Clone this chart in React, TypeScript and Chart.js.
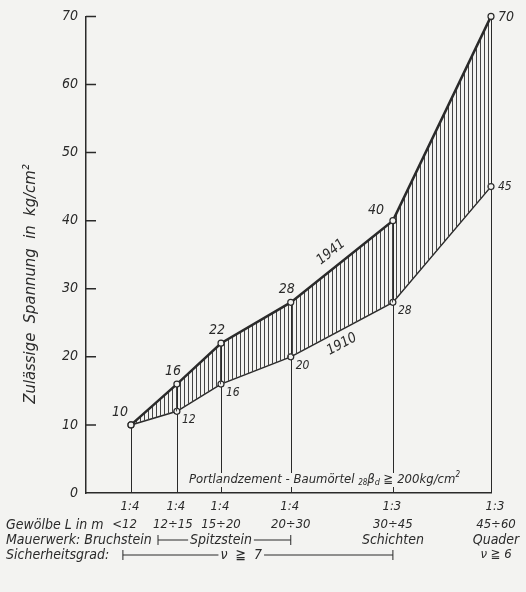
import React, { useEffect, useRef } from "react";
import { Chart, registerables } from "chart.js";

Chart.register(...registerables);

// ---- data ----
const columnPos = [1, 2.02, 3, 4.55, 6.82, 9];
const zul1941 = [10, 16, 22, 28, 40, 70];
const zul1910 = [10, 12, 16, 20, 28, 45];
const mischung = ["1:4", "1:4", "1:4", "1:4", "1:3", "1:3"];
const spannweite = ["<12", "12÷15", "15÷20", "20÷30", "30÷45", "45÷60"];
const mauerwerk = ["", "", "", "", "Schichten", "Quader"];
const sicherheit = ["", "", "", "", "", "ν ≧ 6"];
const spitzsteinRange = [1.6, 4.55];
const spitzsteinAt = 3;
const sicherheit7Range = [0.82, 6.82];
const sicherheit7At = 3.45;

const PAPER = "#f3f3f1";
const INK = "#2a2a2a";
const FONT = "'DejaVu Sans Condensed', 'Liberation Sans Narrow', 'Roboto Condensed', 'DejaVu Sans', sans-serif";

function makeHatch(): CanvasPattern | string {
  const c = document.createElement("canvas");
  c.width = 4;
  c.height = 4;
  const g = c.getContext("2d");
  if (!g) return "#999";
  g.strokeStyle = "#444444";
  g.lineWidth = 1;
  g.beginPath();
  g.moveTo(0.5, 0);
  g.lineTo(0.5, 4);
  g.stroke();
  return g.createPattern(c, "repeat") || "#999";
}

function txt(ctx: CanvasRenderingContext2D, s: string, x: number, y: number, size: number, align: CanvasTextAlign = "center") {
  ctx.font = `italic ${size}px ${FONT}`;
  ctx.textAlign = align;
  ctx.textBaseline = "middle";
  ctx.fillStyle = INK;
  ctx.fillText(s, x, y);
}

function bracket(ctx: CanvasRenderingContext2D, xa: number, xb: number, xc: number, y: number, label: string, size: number) {
  ctx.font = `italic ${size}px ${FONT}`;
  const w = ctx.measureText(label).width;
  ctx.strokeStyle = INK;
  ctx.lineWidth = 1;
  ctx.beginPath();
  ctx.moveTo(xa, y - 5);
  ctx.lineTo(xa, y + 5);
  ctx.moveTo(xa, y);
  ctx.lineTo(xc - w / 2 - 2, y);
  ctx.moveTo(xc + w / 2 + 2, y);
  ctx.lineTo(xb, y);
  ctx.moveTo(xb, y - 5);
  ctx.lineTo(xb, y + 5);
  ctx.stroke();
  txt(ctx, label, xc, y, size);
}

const decor = {
  id: "decor",
  beforeDraw(chart: any) {
    const ctx = chart.ctx;
    ctx.save();
    ctx.fillStyle = PAPER;
    ctx.fillRect(0, 0, chart.width, chart.height);
    ctx.restore();
  },
  beforeDatasetsDraw(chart: any) {
    const ctx = chart.ctx as CanvasRenderingContext2D;
    const xs = chart.scales.x;
    const ys = chart.scales.y;
    ctx.save();
    // drop lines
    ctx.strokeStyle = INK;
    ctx.lineWidth = 1;
    ctx.beginPath();
    columnPos.forEach((x, i) => {
      const px = Math.round(xs.getPixelForValue(x)) + 0.5;
      ctx.moveTo(px, ys.getPixelForValue(zul1941[i]));
      ctx.lineTo(px, ys.getPixelForValue(0));
    });
    ctx.stroke();
    // inward y ticks
    ctx.lineWidth = 1.5;
    ctx.beginPath();
    ys.ticks.forEach((t: any) => {
      if (t.value === 0) return;
      const py = ys.getPixelForValue(t.value);
      ctx.moveTo(chart.chartArea.left, py);
      ctx.lineTo(chart.chartArea.left + 10, py);
    });
    ctx.stroke();
    ctx.restore();
  },
  afterDraw(chart: any) {
    const ctx = chart.ctx as CanvasRenderingContext2D;
    const xs = chart.scales.x;
    const ys = chart.scales.y;
    const ca = chart.chartArea;
    ctx.save();
    const last = columnPos.length - 1;
    // upper point labels
    zul1941.forEach((v, i) => {
      const px = xs.getPixelForValue(columnPos[i]);
      const py = ys.getPixelForValue(v);
      if (i === last) txt(ctx, String(v), px + 7, py + 1, 14, "left");
      else if (i === 0) txt(ctx, String(v), px - 11, py - 13, 14);
      else if (i === 4) txt(ctx, String(v), px - 17, py - 10, 14);
      else txt(ctx, String(v), px - 4, py - 13, 14);
    });
    zul1910.forEach((v, i) => {
      if (i === 0) return;
      const px = xs.getPixelForValue(columnPos[i]);
      const py = ys.getPixelForValue(v);
      if (i === last) txt(ctx, String(v), px + 7, py, 12, "left");
      else txt(ctx, String(v), px + 5, py + 9, 12, "left");
    });
    // series labels along lines
    const lineLabel = (vals: number[], seg: number, t: number, off: number, label: string) => {
      const x0 = xs.getPixelForValue(columnPos[seg]);
      const y0 = ys.getPixelForValue(vals[seg]);
      const x1 = xs.getPixelForValue(columnPos[seg + 1]);
      const y1 = ys.getPixelForValue(vals[seg + 1]);
      const a = Math.atan2(y1 - y0, x1 - x0);
      const cx = x0 + t * (x1 - x0) + Math.sin(a) * off;
      const cy = y0 + t * (y1 - y0) - Math.cos(a) * off;
      ctx.save();
      ctx.translate(cx, cy);
      ctx.rotate(a);
      txt(ctx, label, 0, 0, 14);
      ctx.restore();
    };
    lineLabel(zul1941, 3, 0.48, 14, "1941");
    lineLabel(zul1910, 3, 0.44, -13, "1910");

    // Portlandzement text with cleared background
    const parts = [
      { t: "Portlandzement - Baumörtel ", s: 13, dy: 0 },
      { t: "28", s: 8, dy: 3 },
      { t: "β", s: 13, dy: 0 },
      { t: "d", s: 9, dy: 3 },
      { t: " ≧ 200kg/cm", s: 13, dy: 0 },
      { t: "2", s: 8, dy: -5 },
    ];
    let total = 0;
    parts.forEach((p) => {
      ctx.font = `italic ${p.s}px ${FONT}`;
      total += ctx.measureText(p.t).width;
    });
    const pcx = xs.getPixelForValue(5.3);
    const pcy = ca.bottom - 13;
    ctx.fillStyle = PAPER;
    ctx.fillRect(pcx - total / 2 - 3, pcy - 7, total + 6, 14);
    let xx = pcx - total / 2;
    parts.forEach((p) => {
      txt(ctx, p.t, xx, pcy + p.dy, p.s, "left");
      ctx.font = `italic ${p.s}px ${FONT}`;
      xx += ctx.measureText(p.t).width;
    });

    // y-axis title
    ctx.save();
    ctx.translate(31, 284);
    ctx.rotate(-Math.PI / 2);
    txt(ctx, "Zulässige  Spannung  in  kg/cm²", 0, 0, 16.5);
    ctx.restore();

    // rows under the axis
    const rows = [507, 525, 540, 555];
    const fs = 14;
    const cs = 13;
    columnPos.forEach((x, i) => {
      const px = xs.getPixelForValue(x) + (i === last ? 5 : 0);
      txt(ctx, mischung[i], px - 1, rows[0], cs);
      if (i === 0) txt(ctx, spannweite[i], px + 6, rows[1], cs, "right");
      else txt(ctx, spannweite[i], px - (i === 1 ? 4 : 0), rows[1], cs);
      if (mauerwerk[i]) txt(ctx, mauerwerk[i], px, rows[2], fs);
      if (sicherheit[i]) txt(ctx, sicherheit[i], px, rows[3], cs);
    });
    txt(ctx, "Gewölbe L in m", 6, rows[1], fs, "left");
    txt(ctx, "Mauerwerk: Bruchstein", 6, rows[2], fs, "left");
    txt(ctx, "Sicherheitsgrad:", 6, rows[3], fs, "left");
    bracket(
      ctx,
      xs.getPixelForValue(spitzsteinRange[0]),
      xs.getPixelForValue(spitzsteinRange[1]),
      xs.getPixelForValue(spitzsteinAt),
      rows[2],
      "Spitzstein",
      fs
    );
    bracket(
      ctx,
      xs.getPixelForValue(sicherheit7Range[0]),
      xs.getPixelForValue(sicherheit7Range[1]),
      xs.getPixelForValue(sicherheit7At),
      rows[3],
      "ν  ≧  7",
      14
    );
    ctx.restore();
  },
};

export default function App() {
  const ref = useRef<HTMLCanvasElement>(null);
  useEffect(() => {
    document.body.style.margin = "0";
    document.body.style.background = PAPER;
    const canvas = ref.current;
    if (!canvas) return;
    const hatch = makeHatch();
    const chart = new Chart(canvas, {
      type: "line",
      data: {
        datasets: [
          {
            label: "1941",
            data: columnPos.map((x, i) => ({ x, y: zul1941[i] })),
            borderColor: INK,
            borderWidth: 2.5,
            pointRadius: 3,
            pointHoverRadius: 3,
            pointBackgroundColor: PAPER,
            pointBorderColor: INK,
            pointBorderWidth: 1.2,
            fill: "+1",
            backgroundColor: hatch as any,
            tension: 0,
            clip: false as any,
          },
          {
            label: "1910",
            data: columnPos.map((x, i) => ({ x, y: zul1910[i] })),
            borderColor: INK,
            borderWidth: 1.5,
            pointRadius: 3,
            pointHoverRadius: 3,
            pointBackgroundColor: PAPER,
            pointBorderColor: INK,
            pointBorderWidth: 1.2,
            fill: false,
            tension: 0,
            clip: false as any,
          },
        ],
      },
      options: {
        responsive: false,
        animation: false,
        events: [],
        layout: { padding: { top: 14, right: 35, bottom: 99, left: 0 } },
        plugins: { legend: { display: false }, tooltip: { enabled: false } },
        scales: {
          x: {
            type: "linear",
            min: 0,
            max: 9,
            ticks: { display: false },
            grid: { display: false, drawTicks: false },
            border: { display: true, color: INK, width: 1.5 },
            afterFit: (s: any) => {
              s.height = 0;
            },
          },
          y: {
            min: 0,
            max: 70,
            ticks: {
              stepSize: 10,
              color: INK,
              padding: 8,
              font: { family: FONT, size: 14, style: "italic" },
            },
            grid: { display: false, drawTicks: false },
            border: { display: true, color: INK, width: 1.5 },
            afterFit: (s: any) => {
              s.width = 86;
            },
          },
        },
      },
      plugins: [decor],
    });
    return () => chart.destroy();
  }, []);
  return (
    <div style={{ width: 526, height: 592 }}>
      <canvas ref={ref} width={526} height={592} />
    </div>
  );
}
